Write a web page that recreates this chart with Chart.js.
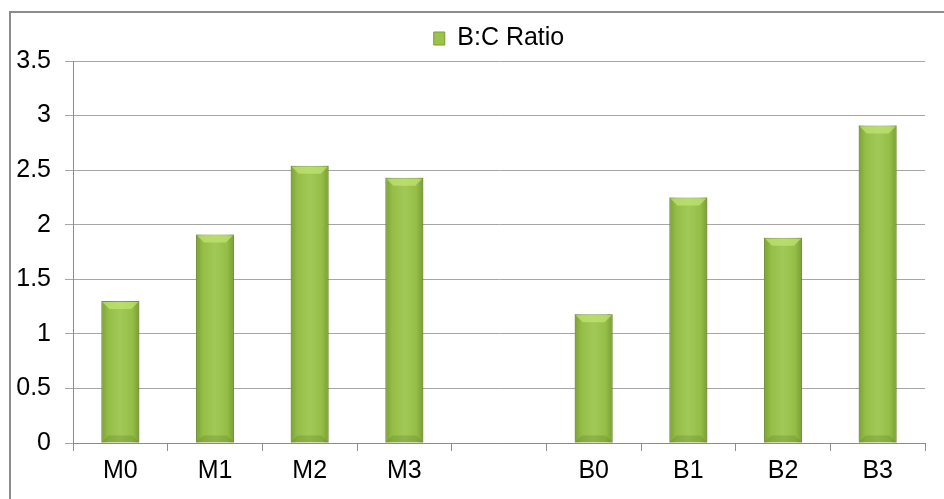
<!DOCTYPE html>
<html>
<head>
<meta charset="utf-8">
<script src="https://cdn.jsdelivr.net/npm/chart.js@4/dist/chart.umd.min.js"></script>
<style>
  html, body { margin: 0; padding: 0; background: #fff; }
  #wrap { width: 944px; height: 499px; }
</style>
</head>
<body>
<div id="wrap"><canvas id="myChart" width="944" height="499"></canvas></div>
<script>
var categories = ['M0', 'M1', 'M2', 'M3', '', 'B0', 'B1', 'B2', 'B3'];
var ratioValues = [1.3, 1.91, 2.54, 2.43, null, 1.18, 2.25, 1.88, 2.91];
var yTicks = [0, 0.5, 1, 1.5, 2, 2.5, 3, 3.5];

// outer frame like the office chart border
var framePlugin = {
    id: 'frame',
    beforeDraw: function (chart) {
        var c = chart.ctx;
        c.save();
        c.strokeStyle = '#8c8c8c';
        c.lineWidth = 2;
        c.strokeRect(10, 12, 1200, 1200);
        c.restore();
    }
};

// shading on the bars: darker sides, light bevel on top
var bevelPlugin = {
    id: 'bevel',
    afterDatasetsDraw: function (chart) {
        var c = chart.ctx;
        var meta = chart.getDatasetMeta(0);
        meta.data.forEach(function (bar, i) {
            if (ratioValues[i] == null) return;
            var w = bar.width, left = bar.x - w / 2, right = bar.x + w / 2;
            var top = bar.y, bottom = bar.base;
            c.save();
            var g = c.createLinearGradient(left, 0, right, 0);
            g.addColorStop(0, 'rgba(90,120,30,0.45)');
            g.addColorStop(0.18, 'rgba(90,120,30,0.08)');
            g.addColorStop(0.5, 'rgba(255,255,255,0.08)');
            g.addColorStop(0.82, 'rgba(90,120,30,0.08)');
            g.addColorStop(1, 'rgba(90,120,30,0.5)');
            c.fillStyle = g;
            c.fillRect(left, top, w, bottom - top);
            // top bevel
            c.fillStyle = 'rgba(195,230,115,0.7)';
            c.beginPath();
            c.moveTo(left + 1, top + 1);
            c.lineTo(right - 1, top + 1);
            c.lineTo(right - 8, top + 8);
            c.lineTo(left + 8, top + 8);
            c.closePath();
            c.fill();
            // bottom bevel
            c.fillStyle = 'rgba(100,130,40,0.3)';
            c.beginPath();
            c.moveTo(left, bottom);
            c.lineTo(right, bottom);
            c.lineTo(right - 7, bottom - 7);
            c.lineTo(left + 7, bottom - 7);
            c.closePath();
            c.fill();
            c.restore();
        });
    }
};

var ctx = document.getElementById('myChart');
var myChart = new Chart(ctx, {
    type: 'bar',
    data: {
        labels: categories,
        datasets: [{
            label: 'B:C Ratio',
            data: ratioValues,
            backgroundColor: '#99c44a',
            borderColor: '#7a9b36',
            borderWidth: 1,
            barPercentage: 0.8,
            categoryPercentage: 0.5
        }]
    },
    options: {
        responsive: false,
        animation: false,
        layout: {
            padding: { left: 10, right: 19, top: 18, bottom: 0 }
        },
        scales: {
            x: {
                grid: {
                    offset: true,
                    drawOnChartArea: false,
                    color: '#8c8c8c',
                    tickLength: 8
                },
                border: { color: '#8c8c8c' },
                ticks: {
                    color: '#000',
                    font: { family: 'Liberation Sans, Arial, sans-serif', size: 25 },
                    padding: 5
                },
                afterFit: function (scale) { scale.height = 56; }
            },
            y: {
                min: 0,
                max: 3.5,
                afterBuildTicks: function (scale) {
                    scale.ticks = yTicks.map(function (v) { return { value: v }; });
                },
                grid: {
                    color: '#a6a6a6',
                    tickLength: 8
                },
                border: { color: '#8c8c8c' },
                ticks: {
                    color: '#000',
                    font: { family: 'Liberation Sans, Arial, sans-serif', size: 25 },
                    padding: 14,
                    callback: function (v) { return String(v); }
                },
                afterFit: function (scale) { scale.width = 63; }
            }
        },
        plugins: {
            legend: {
                display: true,
                fullSize: false,
                labels: {
                    color: '#000',
                    boxWidth: 11,
                    boxHeight: 13,
                    padding: 8,
                    font: { family: 'Liberation Sans, Arial, sans-serif', size: 25 }
                }
            },
            tooltip: { enabled: false }
        }
    },
    plugins: [framePlugin, bevelPlugin]
});
</script>
</body>
</html>
